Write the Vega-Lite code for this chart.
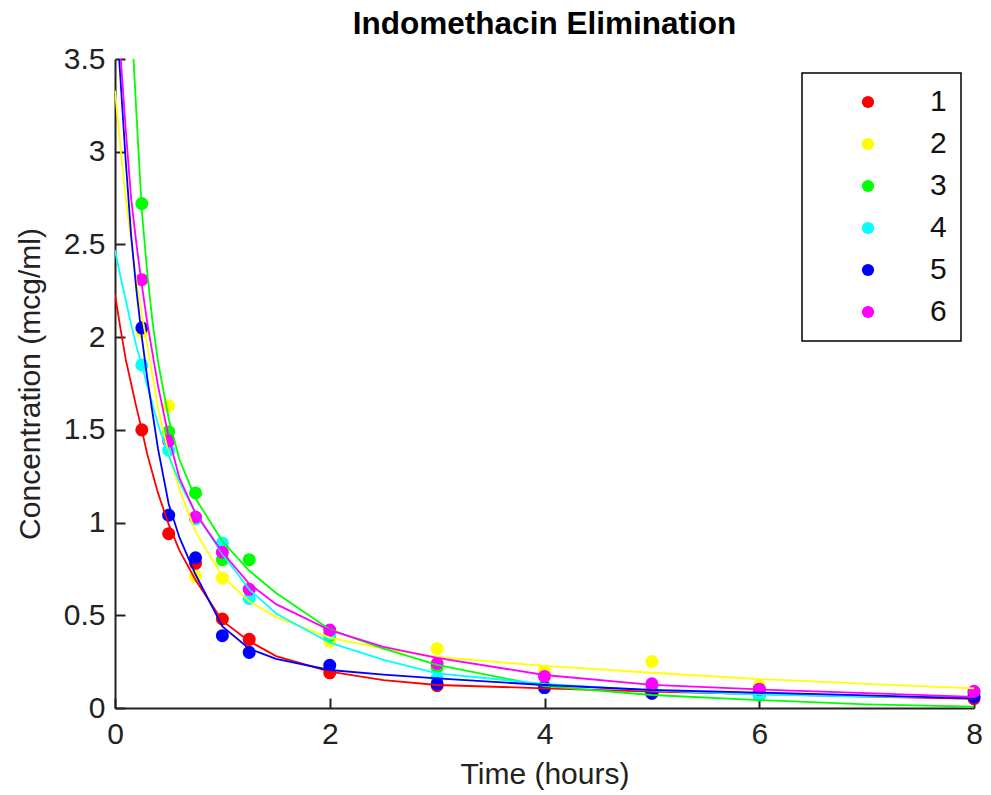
{
  "$schema": "https://vega.github.io/schema/vega-lite/v6.json",
  "width": 859,
  "height": 649,
  "autosize": {"type": "none"},
  "padding": {"left": 115, "top": 59, "right": 17, "bottom": 87},
  "background": "white",
  "title": {"text": "Indomethacin Elimination", "fontSize": 31.5, "font": "Liberation Sans", "fontWeight": "bold", "color": "#000", "anchor": "middle", "frame": "group", "offset": 4},
  "config": {"view": {"stroke": null}, "font": "Liberation Sans", "legend": {"strokeWidth": 1.5}},
  "datasets": {
    "pts": [
      {"subject": "1", "time": 0.25, "conc": 1.50}, {"subject": "1", "time": 0.5, "conc": 0.94}, {"subject": "1", "time": 0.75, "conc": 0.78}, {"subject": "1", "time": 1, "conc": 0.48}, {"subject": "1", "time": 1.25, "conc": 0.37}, {"subject": "1", "time": 2, "conc": 0.19}, {"subject": "1", "time": 3, "conc": 0.12}, {"subject": "1", "time": 4, "conc": 0.11}, {"subject": "1", "time": 5, "conc": 0.08}, {"subject": "1", "time": 6, "conc": 0.07}, {"subject": "1", "time": 8, "conc": 0.05},
      {"subject": "2", "time": 0.25, "conc": 2.03}, {"subject": "2", "time": 0.5, "conc": 1.63}, {"subject": "2", "time": 0.75, "conc": 0.71}, {"subject": "2", "time": 1, "conc": 0.70}, {"subject": "2", "time": 1.25, "conc": 0.64}, {"subject": "2", "time": 2, "conc": 0.36}, {"subject": "2", "time": 3, "conc": 0.32}, {"subject": "2", "time": 4, "conc": 0.20}, {"subject": "2", "time": 5, "conc": 0.25}, {"subject": "2", "time": 6, "conc": 0.12}, {"subject": "2", "time": 8, "conc": 0.08},
      {"subject": "3", "time": 0.25, "conc": 2.72}, {"subject": "3", "time": 0.5, "conc": 1.49}, {"subject": "3", "time": 0.75, "conc": 1.16}, {"subject": "3", "time": 1, "conc": 0.80}, {"subject": "3", "time": 1.25, "conc": 0.80}, {"subject": "3", "time": 2, "conc": 0.39}, {"subject": "3", "time": 3, "conc": 0.22}, {"subject": "3", "time": 4, "conc": 0.12}, {"subject": "3", "time": 5, "conc": 0.11}, {"subject": "3", "time": 6, "conc": 0.08}, {"subject": "3", "time": 8, "conc": 0.08},
      {"subject": "4", "time": 0.25, "conc": 1.85}, {"subject": "4", "time": 0.5, "conc": 1.39}, {"subject": "4", "time": 0.75, "conc": 1.02}, {"subject": "4", "time": 1, "conc": 0.89}, {"subject": "4", "time": 1.25, "conc": 0.59}, {"subject": "4", "time": 2, "conc": 0.40}, {"subject": "4", "time": 3, "conc": 0.16}, {"subject": "4", "time": 4, "conc": 0.11}, {"subject": "4", "time": 5, "conc": 0.10}, {"subject": "4", "time": 6, "conc": 0.07}, {"subject": "4", "time": 8, "conc": 0.07},
      {"subject": "5", "time": 0.25, "conc": 2.05}, {"subject": "5", "time": 0.5, "conc": 1.04}, {"subject": "5", "time": 0.75, "conc": 0.81}, {"subject": "5", "time": 1, "conc": 0.39}, {"subject": "5", "time": 1.25, "conc": 0.30}, {"subject": "5", "time": 2, "conc": 0.23}, {"subject": "5", "time": 3, "conc": 0.13}, {"subject": "5", "time": 4, "conc": 0.11}, {"subject": "5", "time": 5, "conc": 0.08}, {"subject": "5", "time": 6, "conc": 0.10}, {"subject": "5", "time": 8, "conc": 0.06},
      {"subject": "6", "time": 0.25, "conc": 2.31}, {"subject": "6", "time": 0.5, "conc": 1.44}, {"subject": "6", "time": 0.75, "conc": 1.03}, {"subject": "6", "time": 1, "conc": 0.84}, {"subject": "6", "time": 1.25, "conc": 0.64}, {"subject": "6", "time": 2, "conc": 0.42}, {"subject": "6", "time": 3, "conc": 0.24}, {"subject": "6", "time": 4, "conc": 0.17}, {"subject": "6", "time": 5, "conc": 0.13}, {"subject": "6", "time": 6, "conc": 0.10}, {"subject": "6", "time": 8, "conc": 0.09}
    ],
    "fit": [
      {"subject": "1", "time": 0, "conc": 2.23}, {"subject": "1", "time": 0.05, "conc": 2.05}, {"subject": "1", "time": 0.1, "conc": 1.88}, {"subject": "1", "time": 0.15, "conc": 1.75}, {"subject": "1", "time": 0.2, "conc": 1.62}, {"subject": "1", "time": 0.25, "conc": 1.5}, {"subject": "1", "time": 0.3, "conc": 1.37}, {"subject": "1", "time": 0.4, "conc": 1.16}, {"subject": "1", "time": 0.5, "conc": 0.99}, {"subject": "1", "time": 0.6, "conc": 0.85}, {"subject": "1", "time": 0.75, "conc": 0.69}, {"subject": "1", "time": 1, "conc": 0.47}, {"subject": "1", "time": 1.25, "conc": 0.36}, {"subject": "1", "time": 1.5, "conc": 0.28}, {"subject": "1", "time": 2, "conc": 0.196}, {"subject": "1", "time": 2.5, "conc": 0.15}, {"subject": "1", "time": 3, "conc": 0.124}, {"subject": "1", "time": 4, "conc": 0.106}, {"subject": "1", "time": 5, "conc": 0.088}, {"subject": "1", "time": 6, "conc": 0.075}, {"subject": "1", "time": 7, "conc": 0.062}, {"subject": "1", "time": 8, "conc": 0.05},
      {"subject": "2", "time": 0, "conc": 3.33}, {"subject": "2", "time": 0.05, "conc": 3.03}, {"subject": "2", "time": 0.1, "conc": 2.75}, {"subject": "2", "time": 0.15, "conc": 2.52}, {"subject": "2", "time": 0.2, "conc": 2.3}, {"subject": "2", "time": 0.25, "conc": 2.12}, {"subject": "2", "time": 0.3, "conc": 1.96}, {"subject": "2", "time": 0.4, "conc": 1.62}, {"subject": "2", "time": 0.5, "conc": 1.37}, {"subject": "2", "time": 0.6, "conc": 1.18}, {"subject": "2", "time": 0.75, "conc": 0.95}, {"subject": "2", "time": 1, "conc": 0.71}, {"subject": "2", "time": 1.25, "conc": 0.575}, {"subject": "2", "time": 1.5, "conc": 0.49}, {"subject": "2", "time": 2, "conc": 0.38}, {"subject": "2", "time": 2.5, "conc": 0.32}, {"subject": "2", "time": 3, "conc": 0.275}, {"subject": "2", "time": 4, "conc": 0.227}, {"subject": "2", "time": 5, "conc": 0.19}, {"subject": "2", "time": 6, "conc": 0.156}, {"subject": "2", "time": 7, "conc": 0.13}, {"subject": "2", "time": 8, "conc": 0.106},
      {"subject": "3", "time": 0.1, "conc": 4.3}, {"subject": "3", "time": 0.15, "conc": 3.75}, {"subject": "3", "time": 0.2, "conc": 3.2}, {"subject": "3", "time": 0.25, "conc": 2.68}, {"subject": "3", "time": 0.3, "conc": 2.35}, {"subject": "3", "time": 0.35, "conc": 2.08}, {"subject": "3", "time": 0.4, "conc": 1.87}, {"subject": "3", "time": 0.5, "conc": 1.56}, {"subject": "3", "time": 0.6, "conc": 1.34}, {"subject": "3", "time": 0.75, "conc": 1.13}, {"subject": "3", "time": 1, "conc": 0.9}, {"subject": "3", "time": 1.25, "conc": 0.74}, {"subject": "3", "time": 1.5, "conc": 0.62}, {"subject": "3", "time": 2, "conc": 0.424}, {"subject": "3", "time": 2.5, "conc": 0.32}, {"subject": "3", "time": 3, "conc": 0.232}, {"subject": "3", "time": 4, "conc": 0.118}, {"subject": "3", "time": 5, "conc": 0.07}, {"subject": "3", "time": 6, "conc": 0.043}, {"subject": "3", "time": 7, "conc": 0.02}, {"subject": "3", "time": 8, "conc": 0.007},
      {"subject": "4", "time": 0, "conc": 2.47}, {"subject": "4", "time": 0.05, "conc": 2.33}, {"subject": "4", "time": 0.1, "conc": 2.2}, {"subject": "4", "time": 0.15, "conc": 2.07}, {"subject": "4", "time": 0.2, "conc": 1.95}, {"subject": "4", "time": 0.25, "conc": 1.85}, {"subject": "4", "time": 0.3, "conc": 1.74}, {"subject": "4", "time": 0.4, "conc": 1.53}, {"subject": "4", "time": 0.5, "conc": 1.36}, {"subject": "4", "time": 0.6, "conc": 1.22}, {"subject": "4", "time": 0.75, "conc": 1.05}, {"subject": "4", "time": 1, "conc": 0.83}, {"subject": "4", "time": 1.25, "conc": 0.64}, {"subject": "4", "time": 1.5, "conc": 0.51}, {"subject": "4", "time": 2, "conc": 0.352}, {"subject": "4", "time": 2.5, "conc": 0.26}, {"subject": "4", "time": 3, "conc": 0.187}, {"subject": "4", "time": 4, "conc": 0.13}, {"subject": "4", "time": 5, "conc": 0.095}, {"subject": "4", "time": 6, "conc": 0.072}, {"subject": "4", "time": 7, "conc": 0.062}, {"subject": "4", "time": 8, "conc": 0.057},
      {"subject": "5", "time": 0, "conc": 3.85}, {"subject": "5", "time": 0.05, "conc": 3.4}, {"subject": "5", "time": 0.1, "conc": 2.95}, {"subject": "5", "time": 0.15, "conc": 2.55}, {"subject": "5", "time": 0.2, "conc": 2.25}, {"subject": "5", "time": 0.25, "conc": 2.0}, {"subject": "5", "time": 0.3, "conc": 1.78}, {"subject": "5", "time": 0.4, "conc": 1.4}, {"subject": "5", "time": 0.5, "conc": 1.1}, {"subject": "5", "time": 0.6, "conc": 0.92}, {"subject": "5", "time": 0.75, "conc": 0.72}, {"subject": "5", "time": 1, "conc": 0.44}, {"subject": "5", "time": 1.25, "conc": 0.32}, {"subject": "5", "time": 1.5, "conc": 0.265}, {"subject": "5", "time": 2, "conc": 0.205}, {"subject": "5", "time": 2.5, "conc": 0.18}, {"subject": "5", "time": 3, "conc": 0.16}, {"subject": "5", "time": 4, "conc": 0.124}, {"subject": "5", "time": 5, "conc": 0.097}, {"subject": "5", "time": 6, "conc": 0.083}, {"subject": "5", "time": 7, "conc": 0.068}, {"subject": "5", "time": 8, "conc": 0.052},
      {"subject": "6", "time": 0, "conc": 3.95}, {"subject": "6", "time": 0.05, "conc": 3.53}, {"subject": "6", "time": 0.1, "conc": 3.12}, {"subject": "6", "time": 0.15, "conc": 2.75}, {"subject": "6", "time": 0.2, "conc": 2.5}, {"subject": "6", "time": 0.25, "conc": 2.28}, {"subject": "6", "time": 0.3, "conc": 2.08}, {"subject": "6", "time": 0.4, "conc": 1.74}, {"subject": "6", "time": 0.5, "conc": 1.46}, {"subject": "6", "time": 0.6, "conc": 1.24}, {"subject": "6", "time": 0.75, "conc": 1.05}, {"subject": "6", "time": 1, "conc": 0.84}, {"subject": "6", "time": 1.25, "conc": 0.67}, {"subject": "6", "time": 1.5, "conc": 0.56}, {"subject": "6", "time": 2, "conc": 0.42}, {"subject": "6", "time": 2.5, "conc": 0.33}, {"subject": "6", "time": 3, "conc": 0.27}, {"subject": "6", "time": 4, "conc": 0.178}, {"subject": "6", "time": 5, "conc": 0.125}, {"subject": "6", "time": 6, "conc": 0.1}, {"subject": "6", "time": 7, "conc": 0.08}, {"subject": "6", "time": 8, "conc": 0.06}
    ]
  },
  "layer": [
    {
      "data": {"name": "pts"},
      "mark": {"type": "point", "filled": true, "opacity": 1, "size": 170, "strokeWidth": 0},
      "encoding": {
        "x": {"field": "time", "type": "quantitative", "scale": {"domain": [0, 8], "nice": false, "zero": false},
          "axis": {"values": [0, 2, 4, 6, 8], "format": "~g", "title": "Time (hours)", "grid": false, "tickSize": -10, "tickWidth": 2, "tickColor": "#222", "domainColor": "#222", "domainWidth": 2, "labelFontSize": 30, "labelFont": "Liberation Sans", "labelPadding": 21, "labelColor": "#222", "labelFlush": false, "labelOverlap": false, "titleFontSize": 30, "titleFont": "Liberation Sans", "titleFontWeight": "normal", "titleColor": "#222", "titlePadding": 10}},
        "y": {"field": "conc", "type": "quantitative", "scale": {"domain": [0, 3.5], "nice": false},
          "axis": {"values": [0, 0.5, 1, 1.5, 2, 2.5, 3, 3.5], "format": "~g", "title": "Concentration (mcg/ml)", "grid": false, "tickSize": -10, "tickWidth": 2, "tickColor": "#222", "domainColor": "#222", "domainWidth": 2, "labelFontSize": 30, "labelFont": "Liberation Sans", "labelPadding": 20, "labelColor": "#222", "labelFlush": false, "labelOverlap": false, "titleFontSize": 30, "titleFont": "Liberation Sans", "titleFontWeight": "normal", "titleColor": "#222", "titlePadding": 18}},
        "color": {"field": "subject", "type": "nominal",
          "scale": {"domain": ["1", "2", "3", "4", "5", "6"], "range": ["#ff0000", "#ffff00", "#00ff00", "#00ffff", "#0000ff", "#ff00ff"]},
          "legend": {"title": null, "orient": "none", "legendX": 687, "legendY": 14, "direction": "vertical", "padding": 14, "strokeColor": "#000", "fillColor": "white", "symbolType": "circle", "symbolSize": 150, "symbolOffset": 37, "symbolOpacity": 1, "symbolStrokeWidth": 0, "labelOffset": 47, "labelFontSize": 30, "labelFont": "Liberation Sans", "labelColor": "#111", "rowPadding": 12}}
      }
    },
    {
      "data": {"name": "fit"},
      "mark": {"type": "line", "strokeWidth": 1.8, "clip": true},
      "encoding": {
        "x": {"field": "time", "type": "quantitative"},
        "y": {"field": "conc", "type": "quantitative"},
        "stroke": {"field": "subject", "type": "nominal",
          "scale": {"domain": ["1", "2", "3", "4", "5", "6"], "range": ["#ff0000", "#ffff00", "#00ff00", "#00ffff", "#0000ff", "#ff00ff"]},
          "legend": null}
      }
    }
  ]
}
